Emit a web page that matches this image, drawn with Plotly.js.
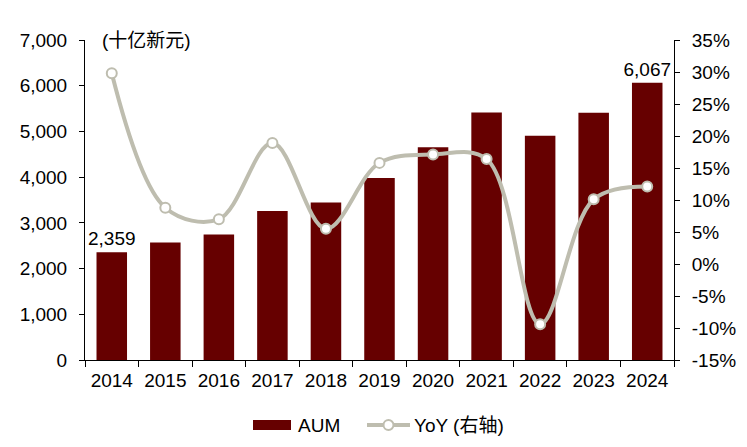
<!DOCTYPE html>
<html><head><meta charset="utf-8">
<script src="https://cdn.plot.ly/plotly-3.0.1.min.js"></script>
<style>html,body{margin:0;padding:0;background:#fff}#c{width:747px;height:447px}</style>
</head><body><div id="c"></div>
<script>
var years = ['2014','2015','2016','2017','2018','2019','2020','2021','2022','2023','2024'];
var aum = [2359, 2570, 2745, 3261, 3443, 3982, 4652, 5416, 4907, 5410, 6067];
var yoy = [29.8, 8.8, 7.0, 18.9, 5.5, 15.8, 17.1, 16.4, -9.4, 10.1, 12.1];
var barLabels = ['2,359','','','','','','','','','','6,067'];
var leftTicks = [0,1000,2000,3000,4000,5000,6000,7000];
var rightTicks = [-15,-10,-5,0,5,10,15,20,25,30,35];
var rightTickText = rightTicks.map(function(v){return v + '%';});
var leftTickText = leftTicks.map(function(v){return v.toLocaleString('en-US');});

var FAM = 'Liberation Sans, Arial, Noto Sans CJK SC, sans-serif';
var font = {family:FAM, size:19, color:'#000'};
var barColor = '#660000', lineColor = '#BEBDAF';
var traces = [
  {type:'bar', x:years, y:aum, name:'AUM', marker:{color:barColor}, width:0.57,
   text:barLabels, textposition:'outside', cliponaxis:false, constraintext:'none',
   textfont:{family:FAM, size:19, color:'#000'}, showlegend:false},
  {type:'scatter', mode:'lines+markers', x:years, y:yoy, yaxis:'y2', name:'YoY (右轴)',
   line:{color:lineColor, width:4, shape:'spline', smoothing:1},
   marker:{size:10, color:'#ffffff', line:{color:lineColor, width:2}}, showlegend:false}
];
var layout = {
  width:747, height:447,
  margin:{l:85, r:73, t:40, b:87},
  paper_bgcolor:'#fff', plot_bgcolor:'#fff',
  font:font,
  showlegend:false,
  xaxis:{type:'category', range:[-0.5,10.5], showline:true, linecolor:'#000', linewidth:1, ticks:'outside', ticklen:6, tickcolor:'#000',
         tickson:'boundaries', showgrid:false, tickfont:font, zeroline:false, ticklabelstandoff:3},
  yaxis:{range:[0,7000], tickvals:leftTicks, ticktext:leftTickText, showline:true, linecolor:'#000', ticks:'outside', ticklen:5,
         tickcolor:'#000', showgrid:false, zeroline:false, tickfont:font, ticklabelstandoff:8},
  yaxis2:{range:[-15,35], tickvals:rightTicks, ticktext:rightTickText, overlaying:'y', side:'right', showline:true, linecolor:'#000',
          ticks:'outside', ticklen:5, tickcolor:'#000', showgrid:false, zeroline:false, tickfont:font, ticklabelstandoff:8},
  shapes:[
    {type:'rect', xref:'paper', yref:'paper', x0:(253-85)/589, x1:(291-85)/589, y0:(360-430)/320, y1:(360-420)/320,
     fillcolor:barColor, line:{width:0}},
    {type:'line', xref:'paper', yref:'paper', x0:(367-85)/589, x1:(410-85)/589, y0:(360-425)/320, y1:(360-425)/320,
     line:{color:lineColor, width:4}},
    {type:'circle', xref:'paper', yref:'paper', x0:(383.5-85)/589, x1:(393.5-85)/589, y0:(360-430)/320, y1:(360-420)/320,
     fillcolor:'#fff', line:{color:lineColor, width:2}}
  ],
  annotations:[
    {text:'(十亿新元)', xref:'paper', yref:'paper', x:(100-85)/589, y:1.0, xanchor:'left', yanchor:'middle', showarrow:false,
     font:{family:FAM, size:19, color:'#000'}},
    {text:'AUM', xref:'paper', yref:'paper', x:(296-85)/589, y:(360-425)/320, xanchor:'left', yanchor:'middle', showarrow:false, font:font},
    {text:'YoY (右轴)', xref:'paper', yref:'paper', x:(412-85)/589, y:(360-425)/320, xanchor:'left', yanchor:'middle', showarrow:false, font:font}
  ]
};
Plotly.newPlot('c', traces, layout, {displayModeBar:false, staticPlot:true});
</script></body></html>
